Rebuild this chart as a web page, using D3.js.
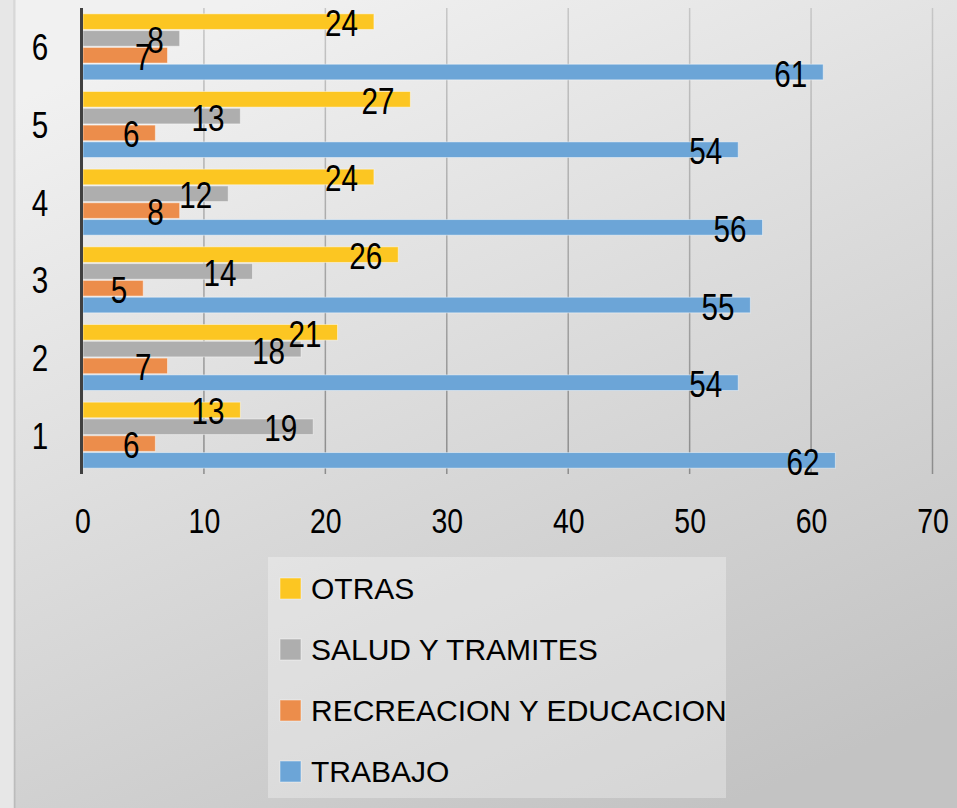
<!DOCTYPE html>
<html lang="es">
<head>
<meta charset="utf-8">
<title>Motivos de viaje</title>
<script src="https://d3js.org/d3.v7.min.js"></script>
<style>
  html, body { margin: 0; padding: 0; background: #e6e6e6; }
  svg { display: block; }
  .num { font-family: "Liberation Sans", Arial, sans-serif; fill: #000; }
  .legend text { font-family: "Liberation Sans", Arial, sans-serif; font-size: 30px; fill: #000; }
</style>
</head>
<body>
<script>
// categories (bottom to top in the chart)
const categories = ["1", "2", "3", "4", "5", "6"];
// series, in the order they are stacked inside each group (top to bottom)
const seriesNames = ["OTRAS", "SALUD Y TRAMITES", "RECREACION Y EDUCACION", "TRABAJO"];
const seriesColors = ["#fcc622", "#aeaeae", "#ec8d4b", "#6ca5d7"];
// values per category 1..6
const otras = [13, 21, 26, 24, 27, 24];
const salud = [19, 18, 14, 12, 13, 8];
const recreacion = [6, 7, 5, 8, 6, 7];
const trabajo = [62, 54, 55, 56, 54, 61];
const xTicks = [0, 10, 20, 30, 40, 50, 60, 70];

const seriesValues = [otras, salud, recreacion, trabajo];

const W = 957, H = 808;
const plot = { left: 82.5, right: 932.5, top: 8, bottom: 474 };
const narrow = "scale(0.79,1)"; // the numbers use a condensed face

const svg = d3.select("body").append("svg")
  .attr("width", W)
  .attr("height", H);

const defs = svg.append("defs");
const bg = defs.append("linearGradient")
  .attr("id", "bg")
  .attr("x1", "0.25").attr("y1", "0")
  .attr("x2", "0.75").attr("y2", "1");
bg.append("stop").attr("offset", "0").attr("stop-color", "#f1f1f1");
bg.append("stop").attr("offset", "1").attr("stop-color", "#c3c3c3");

const gridGrad = defs.append("linearGradient")
  .attr("id", "gridGrad")
  .attr("gradientUnits", "userSpaceOnUse")
  .attr("x1", 0).attr("y1", plot.top)
  .attr("x2", 0).attr("y2", plot.bottom);
gridGrad.append("stop").attr("offset", "0").attr("stop-color", "#c6c6c6");
gridGrad.append("stop").attr("offset", "1").attr("stop-color", "#8c8c8c");

// page strip on the left + chart area
svg.append("rect").attr("x", 0).attr("y", 0).attr("width", 14).attr("height", H).attr("fill", "#e7e7e7");
svg.append("rect").attr("x", 14).attr("y", 0).attr("width", W - 14).attr("height", H).attr("fill", "url(#bg)");
svg.append("rect").attr("x", 13.5).attr("y", 0).attr("width", 2).attr("height", H).attr("fill", "#000").attr("opacity", 0.1);

// scales
const x = d3.scaleLinear().domain([0, 70]).range([plot.left, plot.right]);
const y = d3.scaleBand()
  .domain(categories.slice().reverse())
  .range([plot.top, plot.bottom])
  .paddingInner(0.15)
  .paddingOuter(0.075);
const ySeries = d3.scaleBand()
  .domain(seriesNames)
  .range([0, y.bandwidth()])
  .paddingInner(0.07);

// gridlines
svg.append("g")
  .selectAll("line")
  .data(xTicks.slice(1))
  .join("line")
  .attr("x1", d => x(d)).attr("x2", d => x(d))
  .attr("y1", plot.top).attr("y2", plot.bottom)
  .attr("stroke", "url(#gridGrad)")
  .attr("stroke-width", 1.5);

// x tick labels
const xAxis = d3.axisBottom(x).tickValues(xTicks).tickSize(0).tickPadding(0);
const gx = svg.append("g")
  .attr("transform", `translate(0,${plot.bottom})`)
  .call(xAxis);
gx.select(".domain").remove();
gx.selectAll("text")
  .attr("class", "num")
  .attr("font-size", 36)
  .attr("font-family", null)
  .attr("y", 59)
  .attr("dy", 0)
  .attr("transform", narrow);

// y tick labels
const yAxis = d3.axisLeft(y).tickSize(0).tickPadding(0);
const gy = svg.append("g")
  .attr("transform", `translate(40,0)`)
  .call(yAxis);
gy.select(".domain").remove();
gy.selectAll("text")
  .attr("class", "num")
  .attr("font-size", 37.5)
  .attr("font-family", null)
  .attr("text-anchor", "middle")
  .attr("x", 0)
  .attr("dy", "0.36em")
  .attr("transform", narrow);

// bars
const rows = [];
categories.forEach((c, i) => {
  seriesNames.forEach((s, j) => {
    rows.push({ cat: c, series: s, value: seriesValues[j][i], color: seriesColors[j] });
  });
});

svg.append("g")
  .selectAll("rect")
  .data(rows)
  .join("rect")
  .attr("x", x(0) + 0.5)
  .attr("y", d => y(d.cat) + ySeries(d.series))
  .attr("width", d => x(d.value) - x(0) - 0.5)
  .attr("height", ySeries.bandwidth())
  .attr("fill", d => d.color)
  .attr("stroke", "#ffffff")
  .attr("stroke-opacity", 0.45)
  .attr("stroke-width", 1);

// y axis line
svg.append("line")
  .attr("x1", x(0) - 1).attr("x2", x(0) - 1)
  .attr("y1", plot.top).attr("y2", plot.bottom)
  .attr("stroke", "#404040")
  .attr("stroke-width", 3);

// data labels
svg.append("g")
  .selectAll("g")
  .data(rows)
  .join("g")
  .attr("transform", d => `translate(${x(d.value) - 16},${y(d.cat) + ySeries(d.series) + ySeries.bandwidth() / 2 + 1})`)
  .append("text")
  .attr("class", "num")
  .attr("font-size", 37.5)
  .attr("text-anchor", "end")
  .attr("dy", "0.36em")
  .attr("transform", narrow)
  .text(d => d.value);

// legend
const legend = svg.append("g").attr("class", "legend");
legend.append("rect")
  .attr("x", 268).attr("y", 557)
  .attr("width", 458).attr("height", 241)
  .attr("fill", "#ffffff")
  .attr("opacity", 0.3);
const items = legend.selectAll("g")
  .data(seriesNames)
  .join("g")
  .attr("transform", (d, i) => `translate(280,${599 + i * 61})`);
items.append("rect")
  .attr("x", 0).attr("y", -21)
  .attr("width", 21).attr("height", 21)
  .attr("fill", (d, i) => seriesColors[i])
  .attr("stroke", "#ffffff")
  .attr("stroke-opacity", 0.45);
items.append("text")
  .attr("x", 31)
  .attr("y", 0)
  .text(d => d);
</script>
</body>
</html>
